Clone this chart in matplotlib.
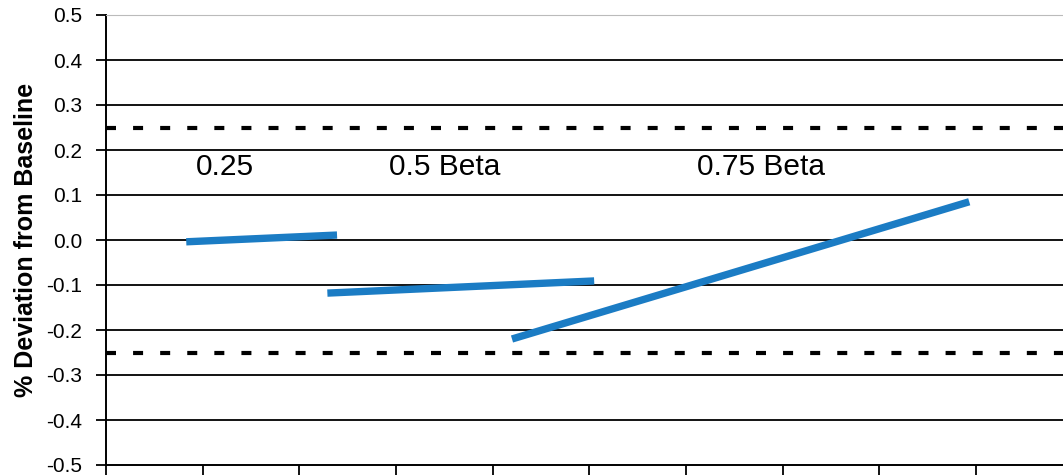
import matplotlib.pyplot as plt

# data (x in units of the tick spacing)
seg_025_x = [0.83, 2.39]
seg_025_y = [-0.004, 0.011]
seg_05_x = [2.29, 5.05]
seg_05_y = [-0.118, -0.091]
seg_075_x = [4.20, 8.93]
seg_075_y = [-0.22, 0.085]

limites = [0.25, -0.25]
etiquetas = ["0.25", "0.5 Beta", "0.75 Beta"]
etiqueta_x = [1.23, 3.5, 6.78]
etiqueta_y = 0.163
y_ticks = [-0.5, -0.4, -0.3, -0.2, -0.1, 0.0, 0.1, 0.2, 0.3, 0.4, 0.5]
x_ticks = list(range(0, 10))

plt.rcParams['font.family'] = ['Liberation Sans', 'DejaVu Sans']

fig = plt.figure(figsize=(10.63, 4.76), dpi=100)
ax = fig.add_axes([106 / 1063, 11 / 476, 1 - 106 / 1063, 450 / 476])

# rejilla horizontal
for v in y_ticks[1:-1]:
    ax.axhline(v, color='black', linewidth=1.3, zorder=1)

# limites punteados
for v in limites:
    ax.axhline(v, color='black', linewidth=3, linestyle=(0, (2.4, 4.1)), zorder=2)

azul = '#1b7cc4'
for xs, ys in [(seg_025_x, seg_025_y), (seg_05_x, seg_05_y), (seg_075_x, seg_075_y)]:
    ax.plot(xs, ys, color=azul, linewidth=5.3, solid_capstyle='butt', zorder=3)

for txt, xx in zip(etiquetas, etiqueta_x):
    ax.text(xx, etiqueta_y, txt, fontsize=21.5, ha='center', va='center')

ax.set_xlim(0, 9.9)
ax.set_ylim(-0.5, 0.5)
ax.set_yticks(y_ticks)
ax.set_yticklabels([f'{v:.1f}' for v in y_ticks], fontsize=15)
ax.set_xticks(x_ticks)
ax.set_xticklabels([])
ax.tick_params(axis='both', direction='out', length=7, width=1.3, color='black')
ax.tick_params(axis='y', pad=10)

ax.spines['top'].set_color('#bbbbbb')
ax.spines['right'].set_visible(False)
ax.spines['left'].set_linewidth(1.4)
ax.spines['bottom'].set_linewidth(1.4)

ax.set_ylabel('% Deviation from Baseline', fontsize=18, fontweight='bold', labelpad=6)

fig.savefig('out.png', dpi=100)
